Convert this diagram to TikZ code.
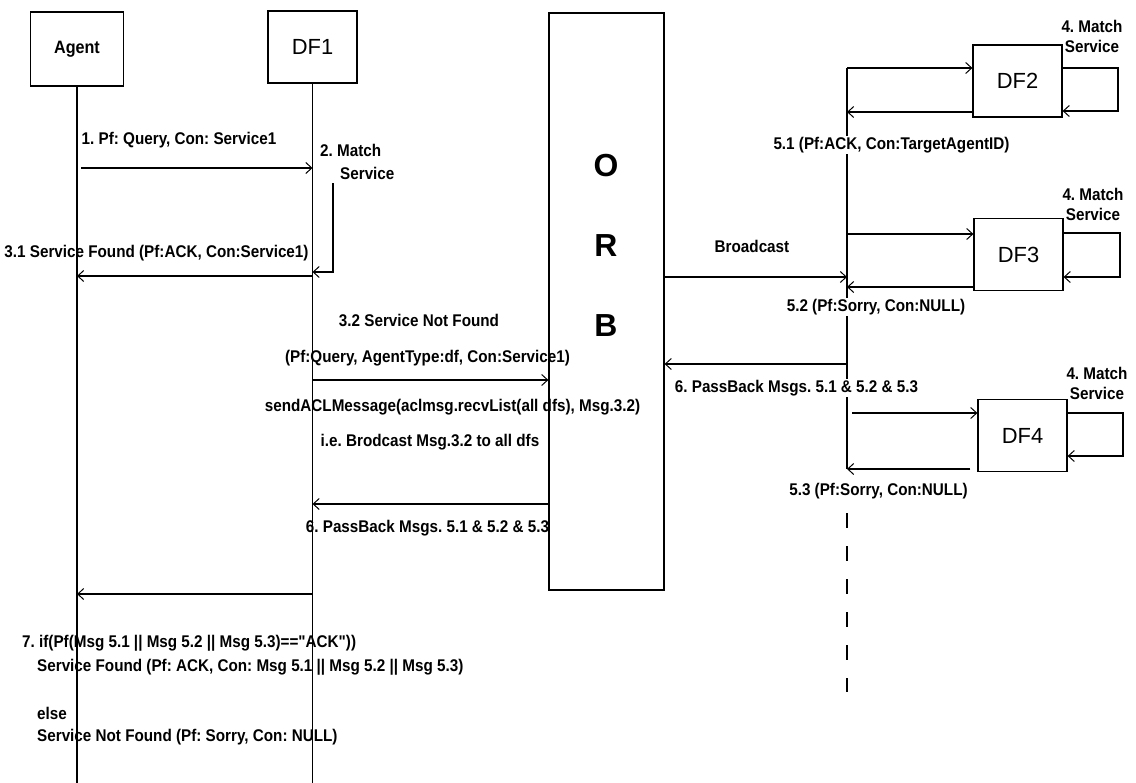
\documentclass[tikz,border=0pt]{standalone}
\usepackage{fontspec}
\setmainfont{Liberation Sans}[FakeStretch=0.9, Ligatures=TeXOff]
\newfontfamily\plainsans{Liberation Sans}
\usetikzlibrary{arrows.meta}
\frenchspacing

\tikzset{
  box/.style={draw, line width=1.2bp, minimum width=89bp, minimum height=72bp,
              inner sep=0pt, font=\plainsans\fontsize{22}{24}\selectfont},
  msg/.style={line width=1.2bp, -{Straight Barb[length=6bp,width=11bp,line width=1bp]}},
  life/.style={line width=1.2bp},
  lbl/.style={font=\bfseries\fontsize{17}{20}\selectfont, inner sep=1bp},
  lblw/.style={lbl, fill=white},
  orbletter/.style={font=\plainsans\bfseries\fontsize{32}{34}\selectfont},
  loopnote/.style={lbl, align=center},
}

\begin{document}
\begin{tikzpicture}[x=1bp,y=-1bp]
\useasboundingbox (0,0) rectangle (1136,783);

% participants
\node[box, minimum width=93bp, minimum height=74bp,
      font=\bfseries\fontsize{18}{20}\selectfont] (agent) at (77,49) {Agent};
\node[box] (df1) at (312.5,47) {DF1};
\node[box, minimum width=115bp, minimum height=577bp] (orb) at (606.5,301.5) {};
\node[orbletter] (orbO) at (606,166) {O};
\node[orbletter] (orbR) at (606,246) {R};
\node[orbletter] (orbB) at (606,326) {B};
\node[box] (df2) at (1017.5,81) {DF2};
\node[box] (df3) at (1018.5,254.5) {DF3};
\node[box] (df4) at (1022.5,435.5) {DF4};

% lifelines
\coordinate (bottom) at (0,783);
\draw[life] (agent.south) -- (agent.south |- bottom);
\draw[life] (df1.south) -- (df1.south |- bottom);
\coordinate (busTop) at (847,68);
\coordinate (busBot) at (847,469);
\coordinate (dashTop) at (847,513);
\coordinate (dashBot) at (847,692);
\draw[life] (busTop) -- (busBot);
\draw[life, dash pattern=on 15bp off 18bp] (dashTop) -- (dashBot);

% Agent <-> DF1
\draw[msg, shorten <=4bp] (agent.south |- 0,168) -- (df1.south |- 0,168);
\node[lbl] (l1) at (179,140) {1. Pf: Query, Con: Service1};
\node[lbl, anchor=west] (l2a) at (319,150) {2. Match};
\node[lbl, anchor=west] (l2b) at (339,173) {Service};
\coordinate (m2top) at (333,183);
\coordinate (m2bot) at (333,272);
\draw[msg] (m2top) -- (m2bot) -- (df1.south |- m2bot);
\draw[msg] (df1.south |- 0,276) -- (agent.south |- 0,276);
\node[lbl] (l31) at (156.5,253) {3.1 Service Found (Pf:ACK, Con:Service1)};

% DF1 <-> ORB
\node[lbl] (l32) at (419,320) {3.2 Service Not Found};
\node[lbl] (l32b) at (427.5,358) {(Pf:Query, AgentType:df, Con:Service1)};
\draw[msg] (df1.south |- 0,380) -- (orb.west |- 0,380);
\node[lbl] (l32c) at (452.5,407) {sendACLMessage(aclmsg.recvList(all dfs), Msg.3.2)};
\node[lbl] (l32d) at (430,442) {i.e. Brodcast Msg.3.2 to all dfs};
\draw[msg] (orb.west |- 0,504) -- (df1.south |- 0,504);
\node[lbl] (l6a) at (427.5,528) {6. PassBack Msgs. 5.1 \& 5.2 \& 5.3};

% ORB <-> DFs
\draw[msg] (orb.east |- 0,277) -- (busTop |- 0,277);
\node[lbl] (lb) at (752,246) {Broadcast};
\draw[msg] (busTop |- 0,364) -- (orb.east |- 0,364);
\node[lblw] (l6b) at (796.5,388) {6. PassBack Msgs. 5.1 \& 5.2 \& 5.3};

% DF2
\draw[msg] (busTop |- 0,68) -- (df2.west |- 0,68);
\draw[msg] (df2.west |- 0,112) -- (busTop |- 0,112);
\draw[msg] (df2.east |- 0,68) -- (1118,68) -- (1118,111) -- (df2.east |- 0,111);
\node[loopnote] (n2) at (1092,36) {4. Match\\Service};
\node[lblw] (l51) at (891.5,145) {5.1 (Pf:ACK, Con:TargetAgentID)};

% DF3
\draw[msg] (busTop |- 0,234) -- (df3.west |- 0,234);
\draw[msg] (df3.west |- 0,287) -- (busTop |- 0,287);
\draw[msg] (df3.east |- 0,233) -- (1120,233) -- (1120,277) -- (df3.east |- 0,277);
\node[loopnote] (n3) at (1093,204.5) {4. Match\\Service};
\node[lblw] (l52) at (876,307) {5.2 (Pf:Sorry, Con:NULL)};

% DF4
\draw[msg, shorten <=5bp] (busTop |- 0,413) -- (df4.west |- 0,413);
\draw[msg, shorten <=7bp] (df4.west |- 0,469) -- (busTop |- 0,469);
\draw[msg] (df4.east |- 0,413) -- (1123,413) -- (1123,456) -- (df4.east |- 0,456);
\node[loopnote] (n4) at (1097,383.5) {4. Match\\Service};
\node[lblw] (l53) at (878.5,491) {5.3 (Pf:Sorry, Con:NULL)};

% final reply to the agent
\draw[msg] (df1.south |- 0,594) -- (agent.south |- 0,594);
\node[lbl, anchor=west] (l7a) at (21,643) {7. if(Pf(Msg 5.1 || Msg 5.2 || Msg 5.3)=="ACK"))};
\node[lbl, anchor=west] (l7b) at (36,667) {Service Found (Pf: ACK, Con: Msg 5.1 || Msg 5.2 || Msg 5.3)};
\node[lbl, anchor=west] (l7c) at (36,713) {else};
\node[lbl, anchor=west] (l7d) at (36,737) {Service Not Found (Pf: Sorry, Con: NULL)};
\end{tikzpicture}
\end{document}
